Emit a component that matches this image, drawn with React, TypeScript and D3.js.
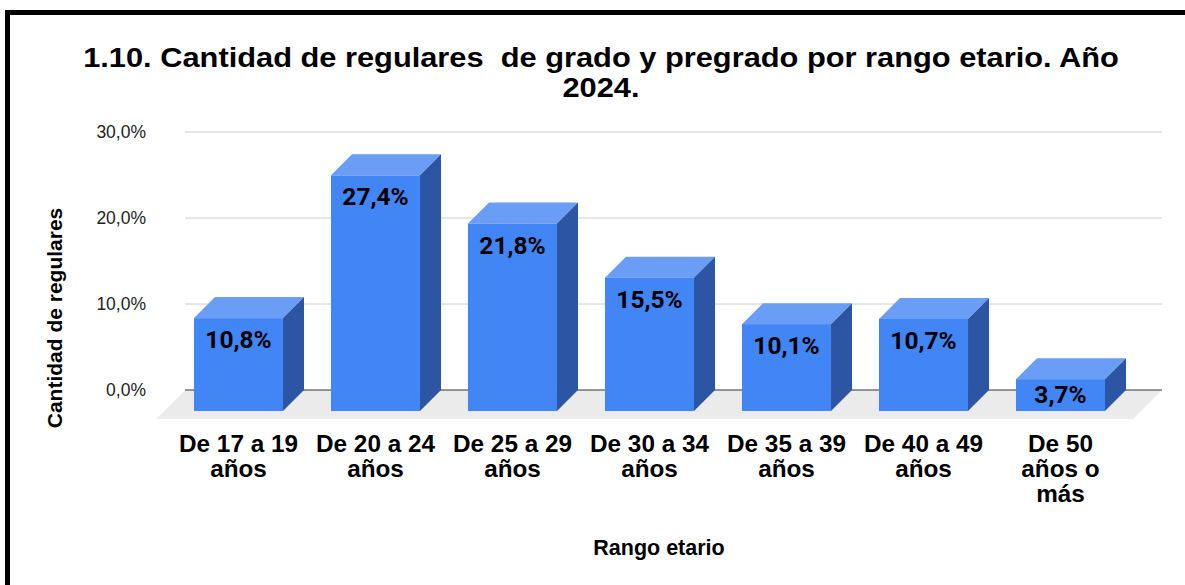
import React from 'react';
import * as d3 from 'd3';

const categories = [
  ['De 17 a 19', 'años'],
  ['De 20 a 24', 'años'],
  ['De 25 a 29', 'años'],
  ['De 30 a 34', 'años'],
  ['De 35 a 39', 'años'],
  ['De 40 a 49', 'años'],
  ['De 50', 'años o', 'más'],
];
const values = [10.8, 27.4, 21.8, 15.5, 10.1, 10.7, 3.7];
const yTicks = [0, 10, 20, 30];
const titleLines = ['1.10. Cantidad de regulares  de grado y pregrado por rango etario. Año', '2024.'];

const W = 1185;
const H = 585;
const depth = 21; // 3D offset of the bars
const floorDepth = 29;
const arial = 'Liberation Sans, Arial, sans-serif';

export default function App() {
  const y = d3.scaleLinear().domain([0, 30]).range([390, 132]);
  const x = d3.scaleBand<number>()
    .domain(d3.range(categories.length))
    .range([170, 1129])
    .paddingInner(0.35)
    .paddingOuter(0.175);
  const gridX0 = 185;
  const gridX1 = 1162;
  const base = y(0);
  const fmt = (v: number) => v.toFixed(1).replace('.', ',') + '%';
  const bw = x.bandwidth();

  return (
    <div style={{ position: 'absolute', left: 0, top: 0 }}>
      <svg width={W} height={H} style={{ display: 'block', background: 'white' }}>
        {/* frame */}
        <rect x={7.5} y={12.5} width={1300} height={700} fill="none" stroke="#000" strokeWidth={5} />

        {/* title (the original font runs a bit wide) */}
        {titleLines.map((t, i) => (
          <text key={i} transform={`translate(601,${67 + i * 30}) scale(1.1,1)`} textAnchor="middle" fontFamily={arial} fontWeight="bold" fontSize={28} fill="#000" style={{ whiteSpace: 'pre' }}>
            {t}
          </text>
        ))}

        {/* floor */}
        <polygon
          points={[[gridX0, base], [gridX1, base], [gridX1 - floorDepth, base + floorDepth], [gridX0 - floorDepth, base + floorDepth]].map(p => p.join(',')).join(' ')}
          fill="#ebebeb"
        />

        {/* gridlines + y ticks */}
        {yTicks.map(t => (
          <g key={t}>
            <line x1={gridX0} x2={gridX1} y1={y(t)} y2={y(t)} stroke={t === 0 ? '#333' : '#cccccc'} strokeWidth={1} />
            <text x={146} y={y(t)} dy="0.35em" textAnchor="end" fontFamily={arial} fontSize={17.5} fill="#222">
              {fmt(t)}
            </text>
          </g>
        ))}

        {/* bars */}
        {values.map((v, i) => {
          const x0 = x(i)!;
          const x1 = x0 + bw;
          const yb = y(v); // back top
          const yf = yb + depth; // front top
          const yBottom = base + depth;
          const top = [[x0, yf], [x0 + depth, yb], [x1 + depth, yb], [x1, yf]];
          const side = [[x1, yf], [x1 + depth, yb], [x1 + depth, base], [x1, yBottom]];
          const labelY = Math.min(yf + 30, yBottom - 8);
          return (
            <g key={i}>
              <polygon points={top.map(p => p.join(',')).join(' ')} fill="#6a9df6" />
              <polygon points={side.map(p => p.join(',')).join(' ')} fill="#2c56a3" />
              <rect x={x0} y={yf} width={bw} height={yBottom - yf} fill="#4285f4" />
              <text x={x0 + bw / 2} y={labelY} textAnchor="middle" fontFamily="Roboto, sans-serif" fontWeight="bold" fontSize={24.5} fill="#000">
                {fmt(v)}
              </text>
            </g>
          );
        })}

        {/* x labels */}
        {categories.map((lines, i) => (
          <text key={i} textAnchor="middle" fontFamily={arial} fontWeight="bold" fontSize={24.3} fill="#000">
            {lines.map((l, j) => (
              <tspan key={j} x={x(i)! + bw / 2} y={452 + j * 25}>{l}</tspan>
            ))}
          </text>
        ))}

        {/* axis titles */}
        <text x={659} y={555} textAnchor="middle" fontFamily={arial} fontWeight="bold" fontSize={21.5} fill="#000">
          Rango etario
        </text>
        <text transform={`translate(62,318) rotate(-90)`} textAnchor="middle" fontFamily={arial} fontWeight="bold" fontSize={21} fill="#000">
          Cantidad de regulares
        </text>
      </svg>
    </div>
  );
}
